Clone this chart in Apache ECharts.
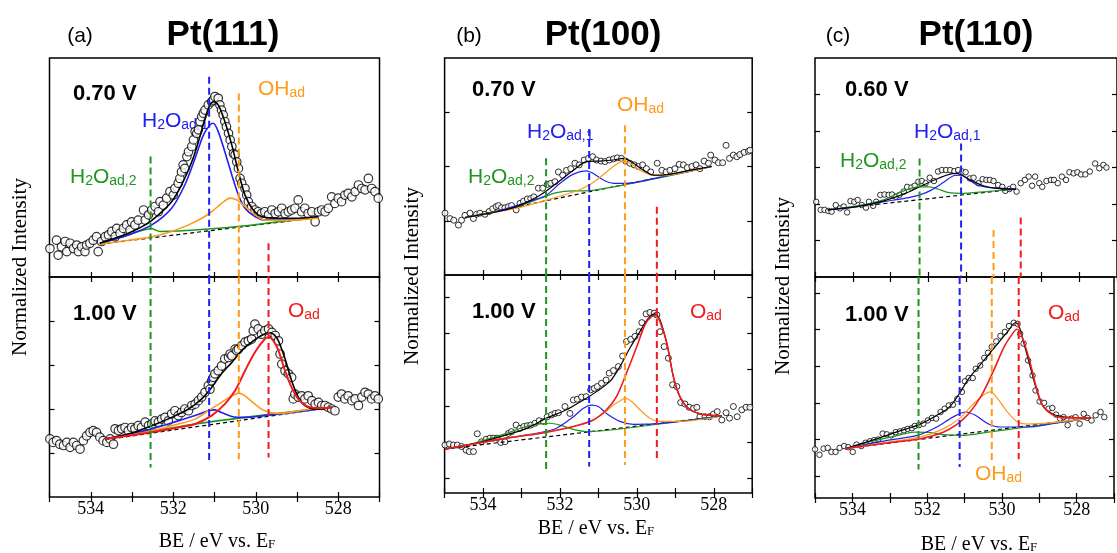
<!DOCTYPE html>
<html>
<head>
<meta charset="utf-8">
<title>O 1s XPS on Pt single crystals</title>
<script src="https://cdn.jsdelivr.net/npm/echarts@6/dist/echarts.min.js"></script>
<style>
html, body { margin: 0; padding: 0; background: #fff; }
#chart { width: 1117px; height: 553px; }
</style>
</head>
<body>
<div id="chart"></div>
<script>
// binding energy axis (eV), drawn reversed
var beMin = 527, beMax = 535;
var beLabels = [528, 530, 532, 534];

// ---------- Pt(111), 0.70 V ----------
var a1Points = [[534.99,0.65],[534.83,0.84],[534.79,0.50],[534.71,0.69],[534.62,0.81],[534.58,0.58],[534.50,0.77],[534.42,0.65],[534.34,0.73],[534.30,0.58],[534.22,0.69],[534.14,0.58],[534.10,0.73],[534.02,0.77],[533.94,0.84],[533.86,0.92],[533.82,0.58],[533.74,0.81],[533.65,0.92],[533.57,0.96],[533.49,1.04],[533.41,0.92],[533.37,1.11],[533.29,1.00],[533.21,1.11],[533.13,1.19],[533.05,1.07],[533.01,1.26],[532.93,1.19],[532.85,1.30],[532.72,1.53],[532.68,1.30],[532.60,1.42],[532.52,1.53],[532.44,1.61],[532.36,1.49],[532.32,1.72],[532.24,1.64],[532.16,1.80],[532.08,1.95],[532.00,1.87],[531.96,2.02],[531.88,2.14],[531.84,2.25],[531.80,2.40],[531.76,2.56],[531.72,2.48],[531.67,2.75],[531.63,2.86],[531.55,2.98],[531.51,3.13],[531.47,3.32],[531.43,3.28],[531.39,3.36],[531.35,3.55],[531.31,3.66],[531.27,3.74],[531.23,3.81],[531.15,3.93],[531.07,4.00],[531.03,4.04],[530.99,4.12],[530.91,4.08],[530.87,3.93],[530.83,3.81],[530.79,3.70],[530.75,3.55],[530.71,3.43],[530.66,3.28],[530.62,3.13],[530.58,2.98],[530.54,2.82],[530.50,2.79],[530.46,2.63],[530.42,2.48],[530.38,2.25],[530.34,2.14],[530.26,2.02],[530.22,1.87],[530.18,1.72],[530.10,1.61],[530.02,1.53],[529.94,1.49],[529.86,1.45],[529.78,1.49],[529.69,1.42],[529.61,1.53],[529.53,1.45],[529.45,1.49],[529.37,1.57],[529.29,1.45],[529.21,1.49],[529.13,1.53],[529.05,1.57],[528.97,1.76],[528.89,1.49],[528.81,1.57],[528.73,1.45],[528.64,1.49],[528.56,1.26],[528.48,1.49],[528.40,1.53],[528.32,1.49],[528.24,1.57],[528.16,1.83],[528.08,1.68],[528.00,1.80],[527.92,1.72],[527.84,1.87],[527.76,1.91],[527.67,1.83],[527.59,1.95],[527.51,2.10],[527.43,2.02],[527.35,1.99],[527.27,2.25],[527.19,2.02],[527.11,1.95],[527.03,1.80]];
var a1Fit = [[533.78,0.77],[533.09,1.00],[532.68,1.19],[532.36,1.42],[532.04,1.72],[531.80,2.10],[531.55,2.63],[531.39,3.09],[531.23,3.62],[531.11,3.93],[531.03,4.00],[530.91,3.93],[530.75,3.55],[530.58,3.01],[530.42,2.40],[530.26,1.87],[530.06,1.53],[529.86,1.38],[529.45,1.34],[529.05,1.34],[528.48,1.38]];
var a1H2O1 = [[533.78,0.77],[533.09,0.96],[532.52,1.19],[532.04,1.57],[531.72,2.10],[531.47,2.71],[531.27,3.24],[531.11,3.47],[531.03,3.51],[530.91,3.32],[530.75,2.86],[530.58,2.33],[530.42,1.87],[530.26,1.57],[530.02,1.38],[529.78,1.30],[529.29,1.30],[528.48,1.36]];
var a1OH = [[533.78,0.75],[533.09,0.84],[532.52,0.92],[532.04,1.04],[531.63,1.19],[531.31,1.34],[531.07,1.49],[530.83,1.68],[530.62,1.80],[530.46,1.76],[530.26,1.61],[530.02,1.42],[529.78,1.30],[529.29,1.29],[528.48,1.35]];
var a1H2O2 = [[533.78,0.77],[533.09,0.96],[532.77,1.06],[532.52,1.10],[532.32,1.04],[531.88,1.05],[531.07,1.10],[530.26,1.17],[529.45,1.26],[528.48,1.36]];
var a1Base = [[533.78,0.75],[528.48,1.36]];

// ---------- Pt(111), 1.00 V ----------
var a2Points = [[534.99,1.32],[534.91,1.24],[534.83,1.28],[534.75,1.20],[534.66,1.17],[534.58,1.24],[534.50,1.13],[534.42,1.24],[534.34,1.17],[534.26,1.09],[534.18,1.28],[534.10,1.39],[534.02,1.47],[533.94,1.51],[533.86,1.47],[533.78,1.36],[533.70,1.28],[533.61,1.24],[533.53,1.32],[533.45,1.20],[533.41,1.55],[533.33,1.51],[533.25,1.55],[533.17,1.58],[533.09,1.51],[533.01,1.58],[532.93,1.55],[532.85,1.62],[532.77,1.58],[532.68,1.70],[532.60,1.62],[532.52,1.66],[532.44,1.73],[532.36,1.70],[532.28,1.77],[532.20,1.81],[532.12,1.73],[532.04,1.89],[531.96,1.96],[531.88,1.85],[531.80,1.92],[531.72,2.00],[531.63,1.96],[531.55,2.08],[531.47,2.11],[531.39,2.19],[531.31,2.27],[531.23,2.38],[531.15,2.53],[531.11,2.45],[531.07,2.64],[531.03,2.72],[530.99,2.80],[530.91,2.87],[530.83,2.98],[530.75,3.14],[530.66,3.17],[530.62,3.25],[530.58,3.21],[530.50,3.36],[530.46,3.33],[530.42,3.36],[530.34,3.44],[530.26,3.52],[530.18,3.55],[530.10,3.59],[530.06,3.78],[530.02,3.93],[529.94,3.82],[529.86,3.70],[529.78,3.78],[529.69,3.82],[529.61,3.74],[529.53,3.67],[529.45,3.55],[529.41,3.25],[529.37,3.02],[529.29,2.87],[529.21,2.80],[529.13,2.72],[529.09,2.23],[529.05,2.34],[528.97,2.27],[528.89,2.30],[528.81,2.23],[528.73,2.30],[528.64,2.19],[528.56,2.11],[528.48,2.15],[528.40,2.08],[528.32,2.08],[528.24,2.04],[528.16,2.00],[528.08,1.96],[528.00,2.27],[527.92,2.34],[527.84,2.23],[527.76,2.30],[527.67,2.19],[527.59,2.23],[527.51,2.08],[527.43,2.27],[527.35,2.38],[527.27,2.34],[527.19,2.23],[527.11,2.30],[527.03,2.23]];
var a2Fit = [[533.65,1.32],[533.09,1.43],[532.52,1.62],[532.04,1.81],[531.63,2.00],[531.31,2.23],[531.07,2.49],[530.83,2.80],[530.58,3.06],[530.34,3.33],[530.10,3.52],[529.86,3.67],[529.69,3.74],[529.57,3.70],[529.45,3.55],[529.29,3.14],[529.13,2.64],[528.97,2.27],[528.81,2.08],[528.56,2.00],[528.16,2.04]];
var a2Oad = [[533.65,1.32],[532.68,1.45],[531.88,1.58],[531.47,1.66],[531.07,1.85],[530.75,2.11],[530.50,2.42],[530.26,2.87],[530.02,3.29],[529.78,3.59],[529.68,3.63],[529.57,3.55],[529.45,3.33],[529.29,2.87],[529.13,2.49],[528.97,2.23],[528.73,2.05],[528.40,2.02],[528.16,2.04]];
var a2OH = [[533.65,1.32],[532.68,1.47],[531.88,1.66],[531.47,1.77],[531.15,1.96],[530.83,2.15],[530.58,2.30],[530.41,2.36],[530.26,2.30],[530.02,2.11],[529.78,1.96],[529.45,1.90],[528.81,1.98],[528.16,2.04]];
var a2H2O1 = [[533.65,1.32],[532.68,1.51],[531.88,1.73],[531.47,1.85],[531.15,1.96],[530.99,1.98],[530.83,1.92],[530.58,1.83],[530.26,1.81],[529.78,1.85],[529.29,1.90],[528.64,1.98],[528.16,2.04]];
var a2H2O2 = [[533.65,1.32],[533.09,1.42],[532.54,1.51],[532.04,1.57],[531.47,1.66],[530.26,1.81],[528.16,2.04]];
var a2Base = [[533.65,1.30],[528.16,2.04]];

// peak positions H2O_ad,2 / H2O_ad,1 / OH_ad / O_ad and the ends of their marker lines
var aPeakBE = [532.55, 531.13, 530.41, 529.69];
var a1PeakTop = [2.75, 4.57, 4.19, 0.77];
var a2PeakEnd = [0.67, 0.75, 0.86, 0.90];

// ---------- Pt(100), 0.70 V ----------
var b1Points = [[534.99,1.14],[534.86,1.04],[534.76,1.01],[534.64,0.92],[534.56,1.01],[534.47,1.10],[534.34,1.14],[534.25,1.04],[534.17,1.12],[534.08,1.14],[533.95,1.12],[533.84,1.17],[533.75,1.22],[533.66,1.26],[533.60,1.28],[533.52,1.24],[533.43,1.24],[533.34,1.26],[533.26,1.28],[533.14,1.20],[533.04,1.32],[532.95,1.36],[532.85,1.40],[532.76,1.41],[532.68,1.44],[532.56,1.60],[532.45,1.60],[532.33,1.67],[532.24,1.69],[532.13,1.72],[532.04,1.90],[531.93,1.84],[531.83,1.93],[531.72,1.96],[531.61,2.06],[531.50,2.03],[531.37,2.12],[531.26,2.15],[531.15,2.18],[531.05,2.12],[530.93,2.10],[530.83,2.09],[530.72,2.12],[530.61,2.14],[530.51,2.16],[530.40,2.15],[530.29,2.10],[530.18,2.06],[530.07,2.03],[529.96,2.00],[529.85,2.03],[529.75,1.96],[529.64,1.90],[529.47,2.06],[529.35,1.93],[529.24,1.90],[529.14,1.93],[529.01,1.96],[528.90,2.04],[528.79,2.03],[528.69,1.98],[528.57,2.00],[528.46,2.03],[528.36,1.96],[528.25,2.10],[528.14,2.06],[528.08,2.21],[527.97,2.12],[527.88,2.07],[527.77,2.07],[527.68,2.39],[527.59,2.15],[527.49,2.21],[527.40,2.18],[527.32,2.22],[527.21,2.26],[527.10,2.28],[527.06,2.30]];
var b1Fit = [[534.47,1.06],[533.82,1.14],[533.13,1.26],[532.52,1.47],[532.09,1.69],[531.65,1.93],[531.31,2.09],[530.96,2.10],[530.61,2.12],[530.35,2.15],[530.09,2.06],[529.83,1.93],[529.57,1.84],[529.22,1.85],[528.70,1.92],[528.05,2.00]];
var b1H2O1 = [[534.47,1.06],[533.82,1.14],[533.13,1.28],[532.69,1.38],[532.35,1.47],[532.00,1.69],[531.65,1.86],[531.31,1.92],[531.13,1.87],[530.87,1.75],[530.61,1.69],[530.27,1.69],[529.75,1.75],[529.22,1.83],[528.70,1.90],[528.05,2.00]];
var b1OH = [[534.47,1.06],[533.82,1.14],[533.13,1.23],[532.35,1.38],[531.65,1.53],[531.31,1.63],[531.05,1.75],[530.79,1.90],[530.53,2.04],[530.35,2.10],[530.18,2.06],[529.92,1.93],[529.66,1.85],[529.40,1.83],[529.05,1.85],[528.05,2.00]];
var b1H2O2 = [[534.47,1.06],[533.82,1.15],[533.13,1.26],[532.52,1.41],[532.09,1.52],[531.65,1.55],[531.31,1.55],[530.79,1.60],[530.27,1.67],[529.48,1.78],[528.05,2.00]];
var b1Base = [[534.47,1.06],[528.05,2.00]];

// ---------- Pt(100), 1.00 V ----------
var b2Points = [[534.99,1.32],[534.88,1.35],[534.77,1.32],[534.67,1.32],[534.56,1.28],[534.44,1.18],[534.36,1.14],[534.25,1.14],[534.15,1.63],[534.04,1.41],[533.92,1.48],[533.82,1.51],[533.73,1.51],[533.63,1.51],[533.54,1.39],[533.43,1.41],[533.34,1.64],[533.26,1.69],[533.14,1.87],[533.04,1.78],[532.94,1.83],[532.85,1.85],[532.76,1.87],[532.65,1.92],[532.54,1.99],[532.43,1.97],[532.33,2.10],[532.22,2.15],[532.13,2.19],[532.04,2.21],[531.87,2.38],[531.74,2.19],[531.65,2.56],[531.55,2.58],[531.44,2.64],[531.32,2.65],[531.20,2.84],[531.11,2.88],[531.03,2.93],[530.92,3.02],[530.80,3.11],[530.72,3.30],[530.61,3.37],[530.48,3.48],[530.37,3.77],[530.27,4.17],[530.16,4.23],[530.05,4.31],[529.94,4.44],[529.87,4.69],[529.76,4.93],[529.66,4.97],[529.55,4.95],[529.48,4.90],[529.40,4.44],[529.29,4.03],[529.18,3.71],[529.07,2.98],[528.96,2.93],[528.86,2.49],[528.75,2.45],[528.64,2.36],[528.53,2.33],[528.44,2.36],[528.36,2.10],[528.23,2.10],[528.11,2.10],[528.01,2.17],[527.91,2.24],[527.79,2.01],[527.68,2.21],[527.59,2.06],[527.49,2.38],[527.39,2.10],[527.27,2.29],[527.16,2.36],[527.06,2.36]];
var b2Fit = [[534.99,1.21],[534.25,1.35],[533.39,1.60],[532.87,1.78],[532.35,2.06],[531.83,2.29],[531.39,2.56],[531.05,2.79],[530.70,3.07],[530.44,3.48],[530.18,3.99],[529.92,4.44],[529.70,4.81],[529.53,4.93],[529.40,4.77],[529.22,4.12],[529.05,3.20],[528.88,2.65],[528.66,2.33],[528.36,2.18],[527.79,2.12]];
var b2Oad = [[534.99,1.21],[534.25,1.35],[533.39,1.51],[532.52,1.64],[531.65,1.83],[531.13,2.01],[530.79,2.29],[530.53,2.65],[530.27,3.30],[530.00,4.03],[529.79,4.63],[529.61,4.86],[529.50,4.88],[529.40,4.72],[529.22,4.12],[529.05,3.20],[528.88,2.65],[528.66,2.33],[528.36,2.18],[527.79,2.12]];
var b2OH = [[534.99,1.21],[533.39,1.51],[532.52,1.64],[531.65,1.83],[531.22,1.97],[530.87,2.19],[530.61,2.42],[530.40,2.56],[530.31,2.61],[530.14,2.52],[529.92,2.29],[529.66,2.06],[529.40,1.97],[528.88,1.97],[527.79,2.12]];
var b2H2O1 = [[534.99,1.21],[533.39,1.51],[532.52,1.66],[532.09,1.78],[531.65,2.10],[531.39,2.33],[531.18,2.42],[531.00,2.38],[530.79,2.19],[530.44,1.97],[530.09,1.89],[529.57,1.90],[528.88,1.97],[527.79,2.12]];
var b2H2O2 = [[534.99,1.21],[534.25,1.37],[533.39,1.64],[532.95,1.81],[532.52,1.90],[532.26,1.92],[532.00,1.87],[531.65,1.75],[531.31,1.69],[530.79,1.72],[529.92,1.83],[528.88,1.97],[527.79,2.12]];
var b2Base = [[534.99,1.21],[527.79,2.12]];

var bPeakBE = [532.36, 531.24, 530.31, 529.48];
var b1PeakTop = [2.15, 2.69, 2.76, 1.26];
var b2PeakEnd = [0.65, 0.73, 0.77, 0.86];

// ---------- Pt(110), 0.60 V ----------
var c1Points = [[534.97,2.06],[534.85,1.84],[534.75,1.84],[534.65,1.81],[534.56,1.79],[534.45,1.97],[534.34,1.88],[534.24,1.93],[534.15,1.77],[534.06,2.08],[533.96,2.06],[533.87,2.11],[533.76,1.97],[533.65,1.90],[533.57,2.06],[533.46,1.95],[533.38,2.06],[533.27,2.25],[533.16,2.26],[533.05,2.25],[532.96,2.26],[532.86,2.20],[532.76,2.25],[532.65,2.34],[532.56,2.47],[532.45,2.45],[532.36,2.50],[532.26,2.61],[532.17,2.63],[532.07,2.57],[531.96,2.72],[531.85,2.63],[531.74,2.89],[531.64,2.93],[531.53,2.93],[531.42,2.93],[531.31,2.90],[531.21,2.93],[531.10,2.89],[531.01,2.87],[530.90,2.70],[530.80,2.72],[530.67,2.57],[530.56,2.68],[530.46,2.66],[530.37,2.66],[530.27,2.63],[530.15,2.52],[530.04,2.47],[529.96,2.36],[529.85,2.41],[529.75,2.47],[529.66,2.34],[529.55,2.57],[529.44,2.66],[529.34,2.75],[529.25,2.50],[529.17,2.75],[529.06,2.57],[528.98,2.47],[528.87,2.63],[528.75,2.66],[528.67,2.66],[528.57,2.57],[528.46,2.75],[528.35,2.66],[528.26,2.87],[528.15,2.84],[528.05,2.87],[527.95,2.81],[527.84,2.81],[527.72,2.89],[527.58,3.11],[527.47,2.98],[527.36,3.07],[527.28,3.00]];
var c1Fit = [[534.66,1.84],[533.89,1.93],[533.20,2.08],[532.60,2.29],[532.17,2.50],[531.74,2.70],[531.31,2.84],[531.14,2.81],[530.89,2.66],[530.54,2.50],[530.20,2.43],[529.68,2.41]];
var c1H2O1 = [[534.66,1.84],[533.89,1.93],[533.20,2.06],[532.60,2.16],[532.22,2.25],[531.92,2.38],[531.57,2.61],[531.31,2.78],[531.14,2.79],[530.97,2.70],[530.71,2.52],[530.37,2.45],[530.03,2.43],[529.68,2.41]];
var c1H2O2 = [[534.66,1.84],[533.89,1.95],[533.20,2.11],[532.60,2.38],[532.22,2.47],[531.96,2.47],[531.74,2.41],[531.49,2.32],[531.14,2.29],[530.46,2.34],[529.68,2.41]];
var c1Base = [[534.66,1.84],[529.68,2.41]];

// ---------- Pt(110), 1.00 V ----------
var c2Points = [[535.00,1.33],[534.88,1.18],[534.77,1.35],[534.66,1.37],[534.56,1.26],[534.45,1.26],[534.34,1.37],[534.22,1.42],[534.11,1.39],[533.99,1.26],[533.89,1.46],[533.76,1.42],[533.65,1.51],[533.53,1.55],[533.42,1.58],[533.31,1.60],[533.19,1.76],[533.08,1.74],[532.96,1.71],[532.84,1.80],[532.73,1.82],[532.62,1.85],[532.52,1.89],[532.41,1.91],[532.33,1.97],[532.22,1.99],[532.10,2.03],[531.98,2.12],[531.87,2.19],[531.76,2.17],[531.64,2.35],[531.53,2.44],[531.42,2.53],[531.31,2.55],[531.19,2.71],[531.07,2.90],[530.99,3.19],[530.89,3.28],[530.78,3.28],[530.70,3.53],[530.58,3.62],[530.47,3.83],[530.37,3.97],[530.27,4.13],[530.15,4.28],[530.04,4.43],[529.92,4.54],[529.81,4.70],[529.68,4.79],[529.58,4.76],[529.51,4.49],[529.42,4.22],[529.30,3.76],[529.18,3.35],[529.10,2.94],[528.99,2.64],[528.87,2.60],[528.75,2.44],[528.65,2.46],[528.55,2.28],[528.44,2.17],[528.35,2.21],[528.24,1.99],[528.14,2.17],[528.03,2.21],[527.92,2.03],[527.81,2.30],[527.71,2.19],[527.60,2.12],[527.49,2.26],[527.36,2.35],[527.26,2.21]];
var c2Fit = [[534.19,1.35],[533.46,1.58],[532.77,1.82],[532.22,2.00],[531.74,2.26],[531.40,2.49],[531.14,2.85],[530.89,3.26],[530.63,3.58],[530.37,3.90],[530.11,4.22],[529.85,4.54],[529.64,4.79],[529.55,4.72],[529.42,4.26],[529.25,3.62],[529.08,2.99],[528.91,2.53],[528.65,2.30],[528.31,2.21],[527.62,2.19]];
var c2Oad = [[534.19,1.35],[533.03,1.51],[532.17,1.62],[531.57,1.80],[531.23,1.99],[530.89,2.30],[530.54,2.81],[530.20,3.53],[529.94,4.13],[529.68,4.54],[529.60,4.61],[529.47,4.44],[529.25,3.72],[529.08,3.03],[528.91,2.53],[528.65,2.28],[528.31,2.19],[527.62,2.19]];
var c2OH = [[534.19,1.35],[533.03,1.53],[532.17,1.67],[531.57,1.89],[531.14,2.17],[530.80,2.53],[530.50,2.81],[530.30,2.90],[530.11,2.71],[529.85,2.35],[529.60,2.09],[529.34,2.02],[528.65,2.06],[527.62,2.19]];
var c2H2O1 = [[534.19,1.35],[533.03,1.58],[532.26,1.71],[531.74,1.94],[531.31,2.21],[530.97,2.35],[530.71,2.26],[530.37,2.03],[530.03,1.94],[529.34,1.94],[528.65,2.03],[527.62,2.19]];
var c2H2O2 = [[534.19,1.35],[533.46,1.55],[532.77,1.71],[532.35,1.80],[531.92,1.79],[531.57,1.73],[531.06,1.71],[530.37,1.80],[529.34,1.94],[527.62,2.19]];
var c2Base = [[534.19,1.35],[527.62,2.19]];

var cPeakBE = [532.23, 531.13, 530.27, 529.55];
var c1PeakTop = [3.25, 3.66, 1.29, 1.63];
var c2PeakEnd = [0.78, 0.85, 0.98, 1.06];

// y tick positions (arbitrary normalized units)
var a2Ticks = [1, 2, 3, 4];
var b1Ticks = [1, 2, 3];
var b2Ticks = [0.4, 1.4, 2.4, 3.4, 4.4, 5.4];
var c1Ticks = [1, 2, 3, 4, 5];
var c2Ticks = [0.6, 1.6, 2.6, 3.6, 4.6, 5.6];

var GREEN = '#1f961f', BLUE = '#2020f0', ORANGE = '#ff9a1a', RED = '#f01c1c';
var peakColors = [GREEN, BLUE, ORANGE, RED];

// one entry per plot box: upper = 0.6/0.7 V, lower = 1.00 V
var boxes = [
    {left: 49.5, top: 58, width: 330, height: 219, ymax: 5, ticks: [], pts: a1Points, base: a1Base,
     comps: [[a1H2O2, GREEN], [a1H2O1, BLUE], [a1OH, ORANGE]], fit: a1Fit, sym: 8.5, bw: 1.2, lw: 1.6,
     peaks: aPeakBE, ends: a1PeakTop, upper: true},
    {left: 49.5, top: 277, width: 330, height: 220, ymax: 5, ticks: a2Ticks, pts: a2Points, base: a2Base,
     comps: [[a2H2O2, GREEN], [a2H2O1, BLUE], [a2OH, ORANGE]], fit: a2Fit, oad: a2Oad, sym: 8.5, bw: 1.2, lw: 1.6,
     peaks: aPeakBE, ends: a2PeakEnd, upper: false},
    {left: 444.6, top: 58, width: 307.6, height: 217, ymax: 4, ticks: b1Ticks, pts: b1Points, base: b1Base,
     comps: [[b1H2O2, GREEN], [b1H2O1, BLUE], [b1OH, ORANGE]], fit: b1Fit, sym: 6, bw: 1, lw: 1.2,
     peaks: bPeakBE, ends: b1PeakTop, upper: true},
    {left: 444.6, top: 275, width: 307.6, height: 218, ymax: 6, ticks: b2Ticks, pts: b2Points, base: b2Base,
     comps: [[b2H2O2, GREEN], [b2H2O1, BLUE], [b2OH, ORANGE]], fit: b2Fit, oad: b2Oad, sym: 6, bw: 1, lw: 1.2,
     peaks: bPeakBE, ends: b2PeakEnd, upper: false},
    {left: 815, top: 58, width: 310.4, height: 219, ymax: 6, ticks: c1Ticks, pts: c1Points, base: c1Base,
     comps: [[c1H2O2, GREEN], [c1H2O1, BLUE]], fit: c1Fit, sym: 5.5, bw: 1, lw: 1.2,
     peaks: cPeakBE, ends: c1PeakTop, upper: true},
    {left: 815, top: 277, width: 310.4, height: 221, ymax: 6.04, ticks: c2Ticks, pts: c2Points, base: c2Base,
     comps: [[c2H2O2, GREEN], [c2H2O1, BLUE], [c2OH, ORANGE]], fit: c2Fit, oad: c2Oad, sym: 5.5, bw: 1, lw: 1.2,
     peaks: cPeakBE, ends: c2PeakEnd, upper: false}
];

var grids = [], xAxes = [], yAxes = [], series = [];

function lineSeries(gi, data, color, width, dash, z) {
    return {
        type: 'line', xAxisIndex: gi * 2, yAxisIndex: gi * 2, data: data,
        smooth: dash ? false : 0.3, symbol: 'none', silent: true, z: z || 3,
        lineStyle: {color: color, width: width, type: dash || 'solid'}
    };
}

boxes.forEach(function (b, gi) {
    grids.push({left: b.left, top: b.top, width: b.width, height: b.height,
        show: true, borderColor: '#000', borderWidth: 1.5, backgroundColor: 'transparent'});

    ['bottom', 'top'].forEach(function (pos) {
        xAxes.push({
            gridIndex: gi, type: 'value', position: pos, min: beMin, max: beMax, interval: 1, inverse: true,
            axisLine: {show: false}, splitLine: {show: false},
            axisTick: {inside: true, length: 5, lineStyle: {color: '#000', width: 1.2}},
            axisLabel: {
                show: !b.upper && pos === 'bottom', margin: 3, color: '#000',
                fontFamily: 'Liberation Serif', fontSize: 18,
                formatter: function (v) {
                    var r = Math.round(v);
                    return beLabels.indexOf(r) >= 0 ? String(r) : '';
                }
            }
        });
    });
    ['left', 'right'].forEach(function (pos) {
        yAxes.push({
            gridIndex: gi, type: 'value', position: pos, min: 0, max: b.ymax,
            axisLine: {show: false}, splitLine: {show: false}, axisLabel: {show: false},
            axisTick: {show: b.ticks.length > 0, inside: true, length: 5, customValues: b.ticks,
                lineStyle: {color: '#000', width: 1.2}}
        });
    });

    series.push({
        type: 'scatter', xAxisIndex: gi * 2, yAxisIndex: gi * 2, data: b.pts, silent: true, z: 2,
        symbol: 'circle', symbolSize: b.sym,
        itemStyle: {color: '#fff', borderColor: '#000', borderWidth: b.bw}
    });
    series.push(lineSeries(gi, b.base, '#000', 1.2, [4, 3]));
    b.comps.forEach(function (c) {
        series.push(lineSeries(gi, c[0], c[1], b.lw));
    });
    series.push(lineSeries(gi, b.fit, '#000', b.lw));
    if (b.oad) series.push(lineSeries(gi, b.oad, RED, b.lw + 0.4));

    // dashed peak markers, running through both boxes of a panel
    b.peaks.forEach(function (be, k) {
        var seg = b.upper ? [[be, b.ends[k]], [be, 0]] : [[be, b.ymax], [be, b.ends[k]]];
        series.push(lineSeries(gi, seg, peakColors[k], 2, [7, 4], 4));
    });
});

// text
var SANS = '"Liberation Sans", Arial, sans-serif';
var SERIF = '"Liberation Serif", "Times New Roman", serif';

function plain(x, y, text, font, align, rot) {
    return {type: 'text', x: x, y: y, rotation: rot || 0, silent: true,
        style: {text: text, font: font, fill: '#000', align: align || 'left', verticalAlign: 'middle',
            textAlign: align || 'left', textVerticalAlign: 'middle'}};
}

function chem(x, y, text, color) {
    return {type: 'text', x: x, y: y, silent: true,
        style: {text: text, fill: color, align: 'left', verticalAlign: 'middle',
            textAlign: 'left', textVerticalAlign: 'middle',
            rich: {
                m: {fontSize: 21, fontFamily: SANS, lineHeight: 24, verticalAlign: 'bottom', fill: color, color: color},
                s: {fontSize: 14, fontFamily: SANS, lineHeight: 14, verticalAlign: 'bottom', fill: color, color: color}
            }}};
}

function beName(x, y) {
    return {type: 'text', x: x, y: y, silent: true,
        style: {text: '{t|BE / eV vs. E}{f|F}', fill: '#000', align: 'center', verticalAlign: 'middle',
            textAlign: 'center', textVerticalAlign: 'middle',
            rich: {
                t: {fontSize: 20, fontFamily: SERIF, lineHeight: 23, verticalAlign: 'bottom', fill: '#000'},
                f: {fontSize: 13, fontFamily: SERIF, lineHeight: 13, verticalAlign: 'bottom', fill: '#000'}
            }}};
}

var W1 = '{m|H}{s|2}{m|O}{s|ad,1}', W2 = '{m|H}{s|2}{m|O}{s|ad,2}', OH = '{m|OH}{s|ad}', OAD = '{m|O}{s|ad}';
var TITLE = 'bold 35px ' + SANS, LETTER = '21px ' + SANS, VOLT = 'bold 22px ' + SANS, YNAME = '21px ' + SERIF;

var texts = [
    plain(223, 35, 'Pt(111)', TITLE, 'center'), plain(80, 36, '(a)', LETTER, 'center'),
    plain(603, 35, 'Pt(100)', TITLE, 'center'), plain(469, 36, '(b)', LETTER, 'center'),
    plain(976, 35, 'Pt(110)', TITLE, 'center'), plain(838, 36, '(c)', LETTER, 'center'),

    plain(73, 94, '0.70 V', VOLT), plain(73, 314, '1.00 V', VOLT),
    plain(472, 90, '0.70 V', VOLT), plain(472, 312, '1.00 V', VOLT),
    plain(845, 90, '0.60 V', VOLT), plain(845, 315, '1.00 V', VOLT),

    chem(142, 120, W1, BLUE), chem(70, 176, W2, GREEN), chem(258, 88, OH, ORANGE), chem(288, 310, OAD, RED),
    chem(527, 131, W1, BLUE), chem(468, 176, W2, GREEN), chem(617, 104, OH, ORANGE), chem(690, 311, OAD, RED),
    chem(914, 131, W1, BLUE), chem(840, 160, W2, GREEN), chem(975, 473, OH, ORANGE), chem(1048, 312, OAD, RED),

    plain(20.5, 267, 'Normalized Intensity', YNAME, 'center', Math.PI / 2),
    plain(412, 276, 'Normalized Intensity', YNAME, 'center', Math.PI / 2),
    plain(783, 286, 'Normalized Intensity', YNAME, 'center', Math.PI / 2),
    beName(217, 540), beName(596, 527), beName(979, 543)
];

var chart = echarts.init(document.getElementById('chart'));
chart.setOption({
    animation: false,
    backgroundColor: '#fff',
    grid: grids,
    xAxis: xAxes,
    yAxis: yAxes,
    series: series,
    graphic: texts
});
</script>
</body>
</html>
